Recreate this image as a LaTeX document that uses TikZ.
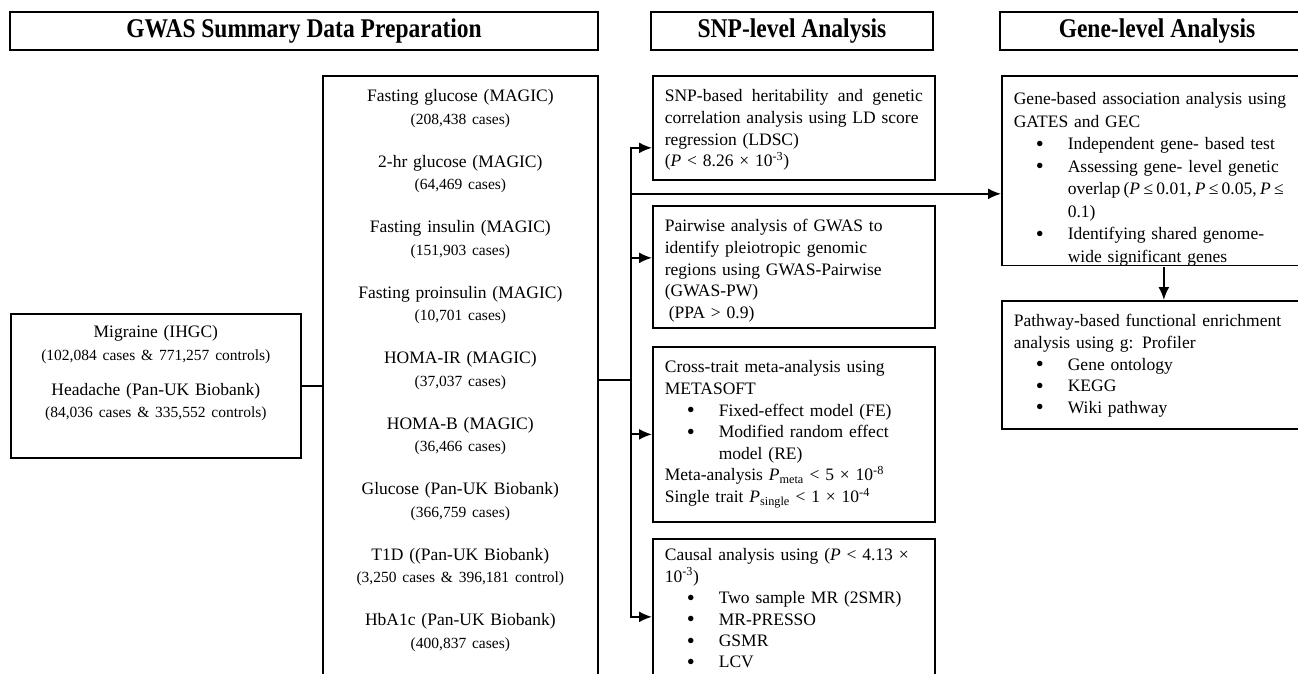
\documentclass[tikz,border=0pt]{standalone}
\usepackage{fontspec}
\usepackage{graphicx}
\setmainfont{Liberation Serif}
\usetikzlibrary{arrows.meta}

\newcommand{\ncase}[1]{{\fontsize{15.5}{22.5}\selectfont #1}}
\newcommand{\itm}{\par\hangindent=54pt\hangafter=1\noindent\hbox to 54pt{\hspace{22pt}\raisebox{-1.6pt}{\scalebox{1.3}{\textbullet}}\hfil}}

\tikzset{
  head/.style={draw,line width=1.8pt,minimum height=38pt,font=\fontsize{23.5}{28}\selectfont\bfseries},
  panel/.style={draw,line width=1.7pt,anchor=north west,inner xsep=12pt,inner ysep=4pt,text height=22pt,align=left,font=\fontsize{17.5}{21.6}\selectfont},
  dset/.style={panel,align=center,font=\fontsize{17.5}{22.5}\selectfont},
  link/.style={line width=1.8pt},
  arr/.style={line width=1.8pt,-{Latex[length=13pt,width=11pt]}}
}

\begin{document}
\begin{tikzpicture}[x=1pt,y=-1pt]
  \useasboundingbox (0,0) rectangle (1298,674);
  \clip (0,0) rectangle (1298,674);

  \node[head,minimum width=588pt] (hprep) at (304,31) {\scalebox{1}[1.15]{GWAS Summary Data Preparation}};
  \node[head,minimum width=282pt] (hsnp) at (792,31) {\scalebox{1}[1.15]{SNP-level Analysis}};
  \node[head,minimum width=314pt] (hgene) at (1157,31) {\scalebox{1}[1.15]{Gene-level Analysis}};

  \node[dset,text width=266pt,text height=20pt,text depth=116pt] (mig) at (10,313) {Migraine (IHGC)\\
    \ncase{(102,084 cases \& 771,257 controls)}\\[12.5pt]
    Headache (Pan-UK Biobank)\\
    \ncase{(84,036 cases \& 335,552 controls)}};

  \node[dset,text width=251pt,text depth=578pt] (trait) at (322,75) {Fasting glucose (MAGIC)\\
    \ncase{(208,438 cases)}\\[20.5pt]
    2-hr glucose (MAGIC)\\
    \ncase{(64,469 cases)}\\[20.5pt]
    Fasting insulin (MAGIC)\\
    \ncase{(151,903 cases)}\\[20.5pt]
    Fasting proinsulin (MAGIC)\\
    \ncase{(10,701 cases)}\\[20.5pt]
    HOMA-IR (MAGIC)\\
    \ncase{(37,037 cases)}\\[20.5pt]
    HOMA-B (MAGIC)\\
    \ncase{(36,466 cases)}\\[20.5pt]
    Glucose (Pan-UK Biobank)\\
    \ncase{(366,759 cases)}\\[20.5pt]
    T1D ((Pan-UK Biobank)\\
    \ncase{(3,250 cases \& 396,181 control)}\\[20.5pt]
    HbA1c (Pan-UK Biobank)\\
    \ncase{(400,837 cases)}};

  \node[panel,text width=258pt,text depth=74pt] (ldsc) at (652,75) {\hbox to\hsize{SNP-based\hfill heritability\hfill and\hfill genetic}
    correlation analysis using LD score\\
    regression (LDSC)\\
    (\textit{P} < 8.26 × 10\textsuperscript{-3})};

  \node[panel,text width=258pt,text depth=92pt] (pw) at (652,205) {Pairwise analysis of GWAS to\\
    identify pleiotropic genomic\\
    regions using GWAS-Pairwise\\
    (GWAS-PW)\\
    \hspace*{4pt}(PPA > 0.9)};

  \node[panel,text width=258pt,text depth=145pt] (meta) at (652,346) {Cross-trait meta-analysis using\\
    METASOFT
    \itm Fixed-effect model (FE)
    \itm Modified random effect\newline model (RE)
    \par Meta-analysis \textit{P}\textsubscript{meta} < 5 × 10\textsuperscript{-8}\\
    Single trait \textit{P}\textsubscript{single} < 1 × 10\textsuperscript{-4}};

  \node[panel,text width=258pt,text height=18pt,text depth=130pt,font=\fontsize{17.5}{21.4}\selectfont] (mr) at (652,538) {Causal analysis using (\textit{P} < 4.13 ×\\
    10\textsuperscript{-3})
    \itm Two sample MR (2SMR)
    \itm MR-PRESSO
    \itm GSMR
    \itm LCV\par};

  \begin{scope}
    \clip (990,60) rectangle (1340,265.85);
    \node[panel,text width=300pt,text height=25pt,text depth=157pt,font=\fontsize{17.5}{22.5}\selectfont] (gba) at (1001,75) {Gene-based association analysis using\\
      GATES and GEC
      \itm Independent gene- based test
      \itm Assessing gene- level genetic\newline {\spaceskip=0.19em overlap (\textit{P} ≤ 0.01, \textit{P} ≤ 0.05, \textit{P} ≤}\newline 0.1)
      \itm Identifying shared genome-\newline wide significant genes\par};
  \end{scope}

  \node[panel,text width=300pt,text depth=98pt] (pfa) at (1001,300) {Pathway-based functional enrichment\\
    analysis using g: Profiler
    \itm Gene ontology
    \itm KEGG
    \itm Wiki pathway\par};

  \coordinate (hub) at ([xshift=32pt]trait.east);
  \coordinate (gin) at ([yshift=-23pt]gba.west);

  \draw[link] (mig.east) -- (mig.east -| trait.west);
  \draw[link] (trait.east) -- (hub);
  \draw[arr] (hub) |- ([yshift=-20pt]ldsc.west);
  \draw[arr] (hub) |- ([yshift=9pt]pw.west);
  \draw[arr] (hub) |- (meta.west);
  \draw[arr] (hub) |- (mr.west);
  \draw[arr] (hub |- gin) -- (gin);
  \draw[arr] (gba.south) -- (pfa.north);
\end{tikzpicture}
\end{document}
